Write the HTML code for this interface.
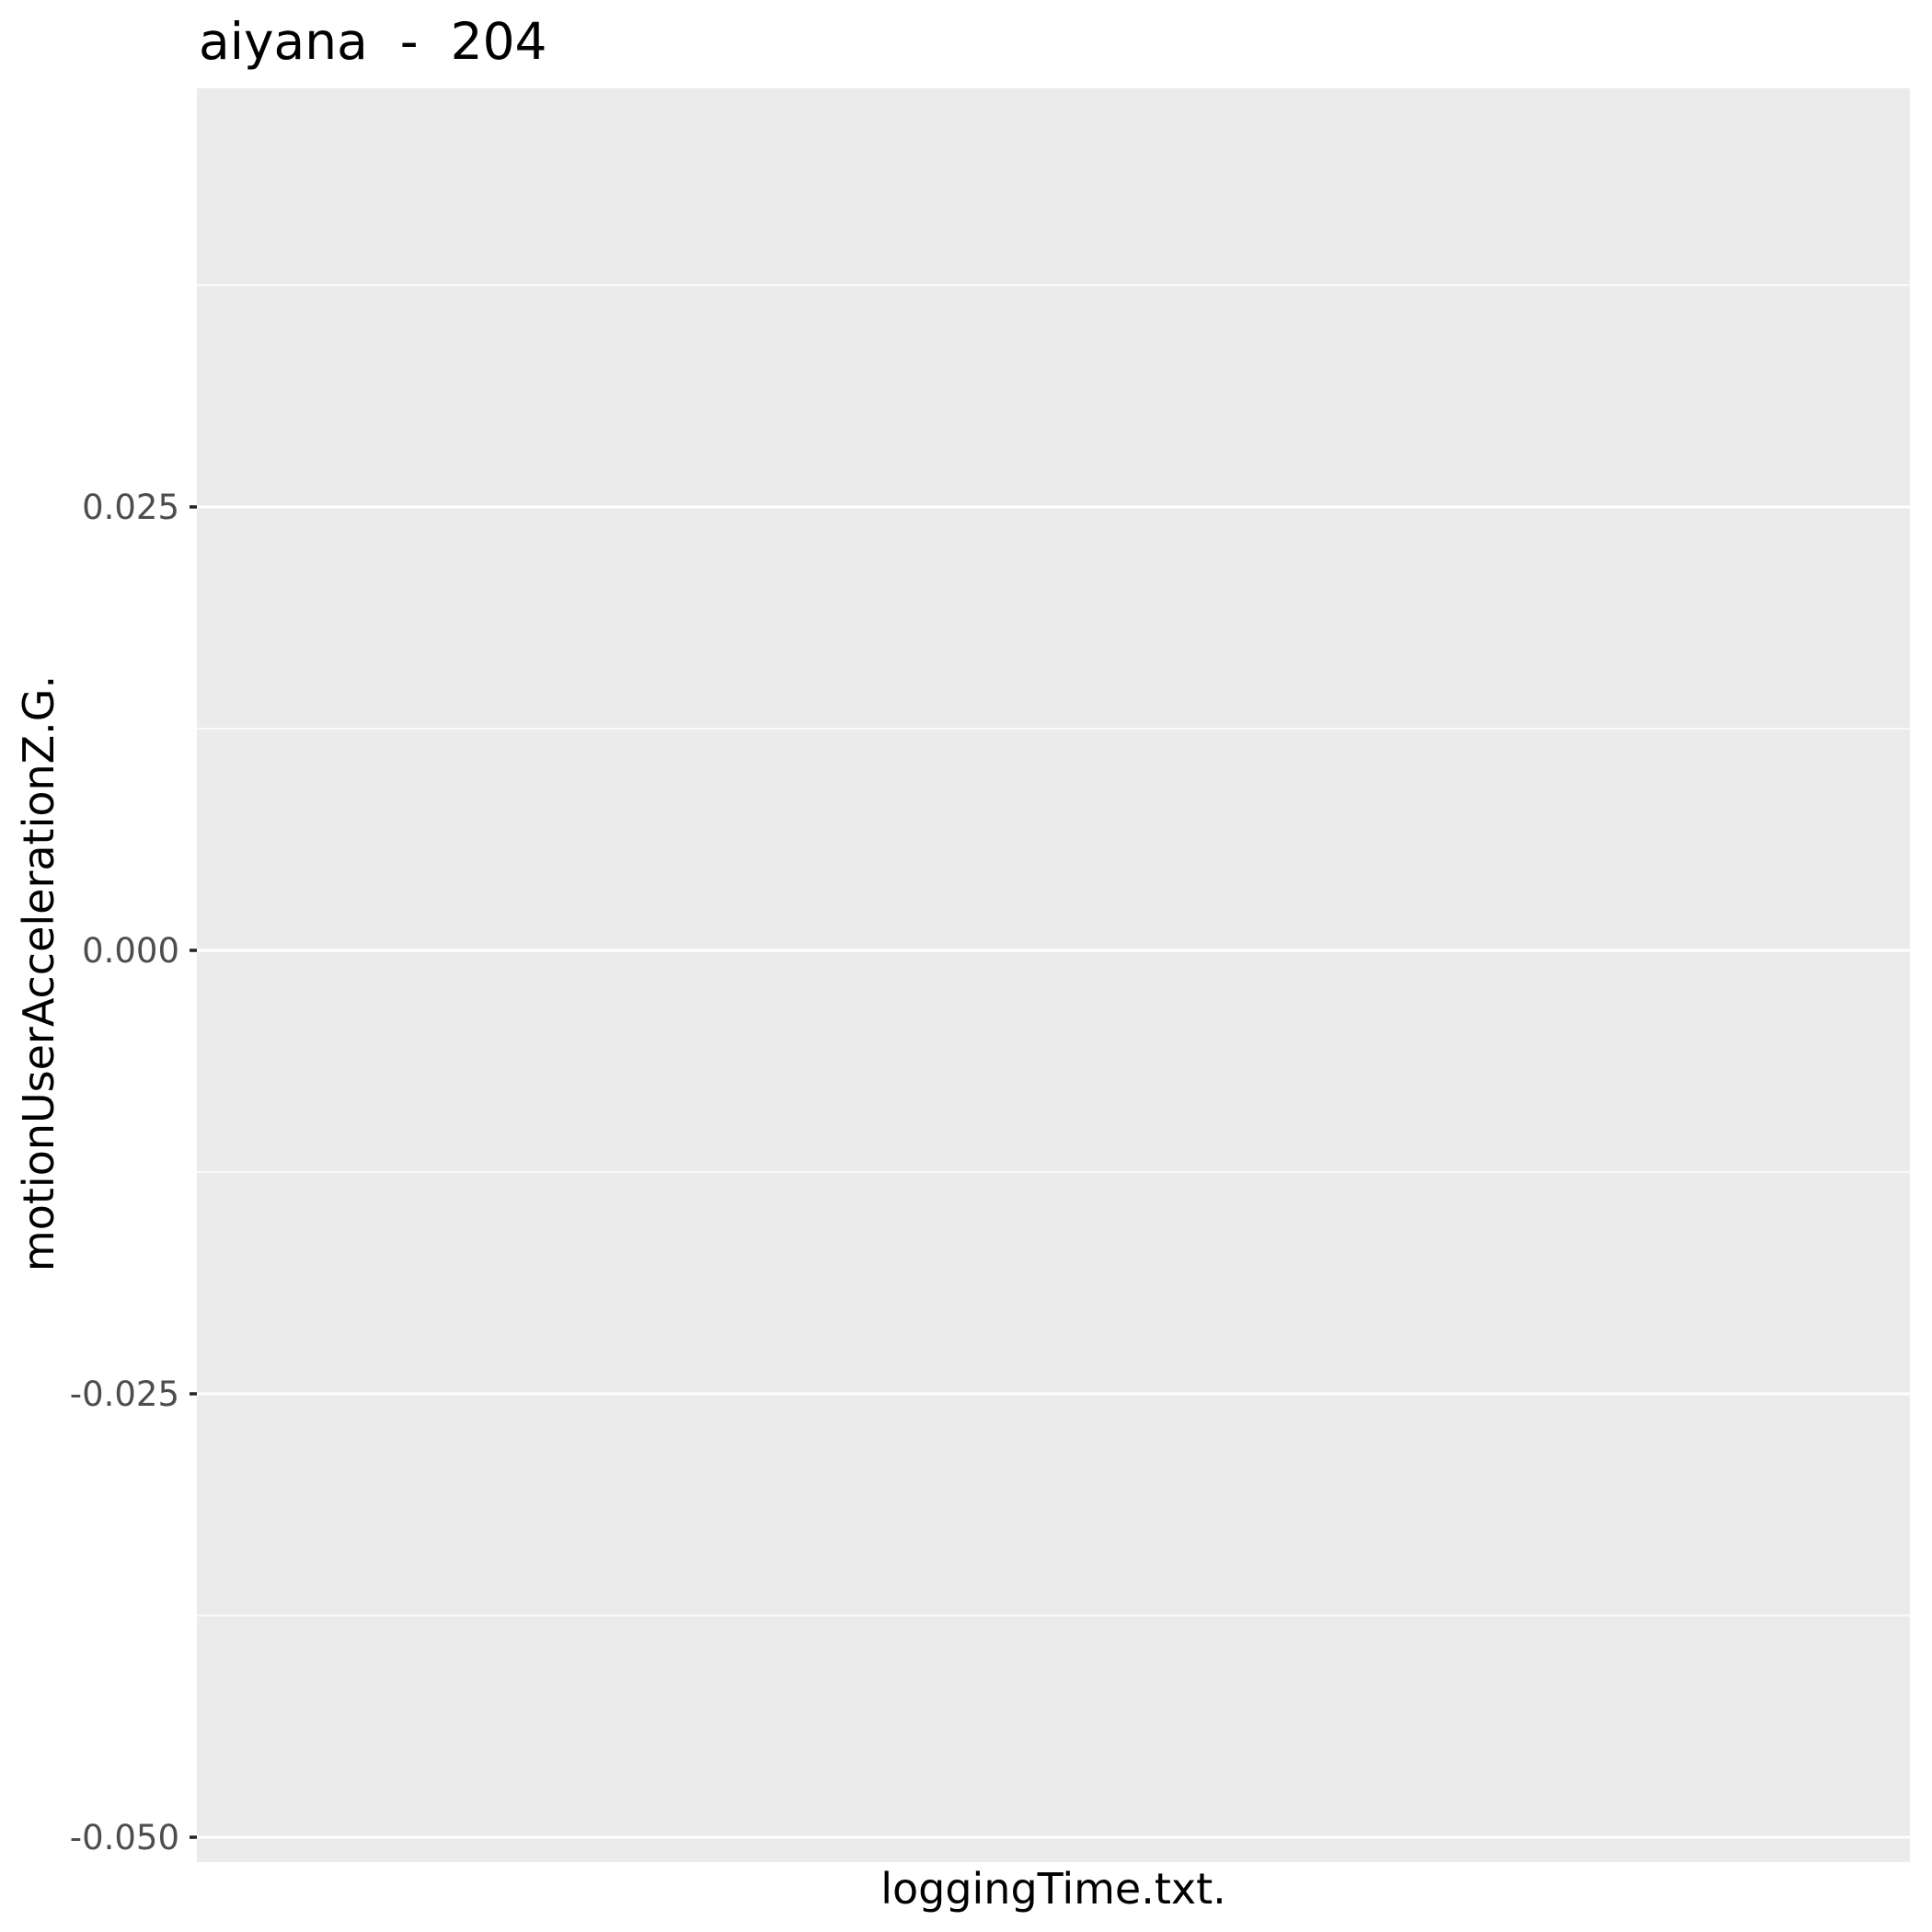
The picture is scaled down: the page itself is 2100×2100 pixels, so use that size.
<!DOCTYPE html>
<html>
<head>
<meta charset="utf-8">
<style>
  html, body { margin: 0; padding: 0; background: #ffffff; }
  svg { display: block; font-family: "DejaVu Sans", "Liberation Sans", sans-serif; }
  text { white-space: pre; }
</style>
</head>
<body>
<svg id="chart" width="2100" height="2100" viewBox="0 0 2100 2100" xmlns="http://www.w3.org/2000/svg" xml:space="preserve">
  <rect x="0" y="0" width="2100" height="2100" fill="#ffffff"/>
  <rect id="panel" x="214" y="96" width="1862" height="1928" fill="#EBEBEB"/>
  <g id="grid-minor"></g>
  <g id="grid-major"></g>
  <g id="y-axis"></g>
  <text x="216" y="64" font-size="55" fill="#000000" xml:space="preserve">aiyana  -  204</text>
  <text x="1145" y="2069" font-size="46" fill="#000000" text-anchor="middle">loggingTime.txt.</text>
  <text x="0" y="0" font-size="46" fill="#000000" text-anchor="middle" transform="translate(58,1058) rotate(-90)">motionUserAccelerationZ.G.</text>
</svg>
<script>
const yTicks = [-0.05, -0.025, 0, 0.025];
const yTickLabels = ["-0.050", "-0.025", "0.000", "0.025"];
const yMinorTicks = [-0.0375, -0.0125, 0.0125, 0.0375];
const yDomain = [-0.0514, 0.0486];

const panelTop = 96, panelBottom = 2024, panelLeft = 214, panelRight = 2076;
function yScale(v) {
  return panelBottom - (v - yDomain[0]) / (yDomain[1] - yDomain[0]) * (panelBottom - panelTop);
}
const NS = "http://www.w3.org/2000/svg";
const gMinor = document.getElementById("grid-minor");
const gMajor = document.getElementById("grid-major");
const gAxis = document.getElementById("y-axis");

yMinorTicks.forEach(v => {
  const y = yScale(v);
  const l = document.createElementNS(NS, "line");
  l.setAttribute("x1", panelLeft); l.setAttribute("x2", panelRight);
  l.setAttribute("y1", y); l.setAttribute("y2", y);
  l.setAttribute("stroke", "#ffffff"); l.setAttribute("stroke-width", "1.5");
  
  
  gMinor.appendChild(l);
});

yTicks.forEach((v, i) => {
  const y = yScale(v);
  const l = document.createElementNS(NS, "line");
  l.setAttribute("x1", panelLeft); l.setAttribute("x2", panelRight);
  l.setAttribute("y1", y); l.setAttribute("y2", y);
  l.setAttribute("stroke", "#ffffff"); l.setAttribute("stroke-width", "3");
  
  
  gMajor.appendChild(l);

  const t = document.createElementNS(NS, "line");
  t.setAttribute("x1", panelLeft - 8); t.setAttribute("x2", panelLeft);
  t.setAttribute("y1", y); t.setAttribute("y2", y);
  t.setAttribute("stroke", "#222222"); t.setAttribute("stroke-width", "3.5");
  
  
  gAxis.appendChild(t);

  const tx = document.createElementNS(NS, "text");
  tx.setAttribute("x", panelLeft - 19);
  tx.setAttribute("y", y + 13);
  tx.setAttribute("text-anchor", "end");
  tx.setAttribute("font-size", "37");
  tx.setAttribute("fill", "#4D4D4D");
  tx.textContent = yTickLabels[i];
  
  
  gAxis.appendChild(tx);
});
</script>
</body>
</html>
